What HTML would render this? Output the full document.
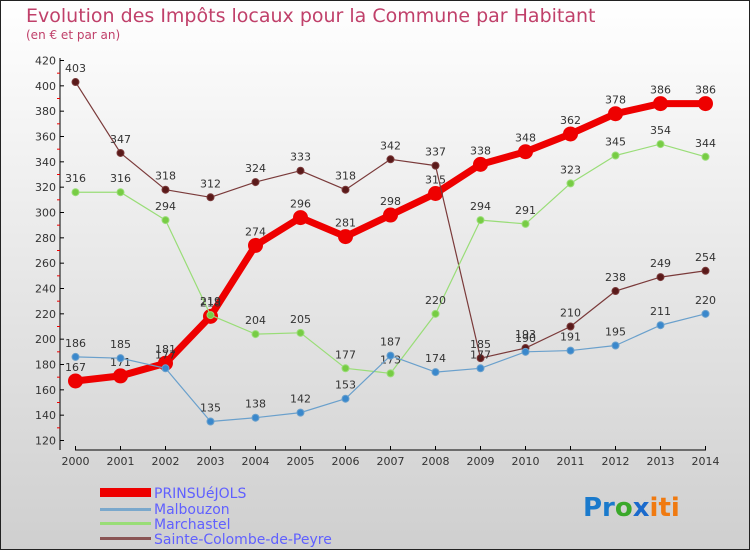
<!DOCTYPE html>
<html><head><meta charset="utf-8"><style>
body{margin:0;}
svg{display:block;font-family:"DejaVu Sans","Liberation Sans",sans-serif;}
</style></head><body>
<svg id="chart" width="750" height="550">
<defs><linearGradient id="bg" x1="0" y1="0" x2="0" y2="1"><stop offset="0" stop-color="#ffffff"/><stop offset="1" stop-color="#cfcfcf"/></linearGradient></defs>
<rect x="0.5" y="0.5" width="749" height="549" fill="url(#bg)" stroke="#222"/>
<text x="26" y="22" font-size="19" fill="#c0406a">Evolution des Impôts locaux pour la Commune par Habitant</text>
<text x="26" y="39" font-size="12" fill="#c0406a">(en € et par an)</text>
<g id="axes"></g><g id="series"></g>
<g>
<rect x="100" y="488" width="51" height="9" fill="#e00"/>
<text x="154" y="498" font-size="14" fill="#6060ff">PRINSUéJOLS</text>
<rect x="100" y="508" width="51" height="3" fill="#7aa8cc"/>
<text x="154" y="514" font-size="14" fill="#6060ff">Malbouzon</text>
<rect x="100" y="522" width="51" height="3" fill="#99dd77"/>
<text x="154" y="529" font-size="14" fill="#6060ff">Marchastel</text>
<rect x="100" y="537" width="51" height="3" fill="#8a5555"/>
<text x="154" y="544" font-size="14" fill="#6060ff">Sainte-Colombe-de-Peyre</text>
</g>
<text x="583" y="516" font-size="26" font-weight="bold"><tspan fill="#1a7acc">Pr</tspan><tspan fill="#3aa82a">o</tspan><tspan fill="#1a6acc">x</tspan><tspan fill="#f07a10">iti</tspan></text>
</svg>
<script>
const years=[2000,2001,2002,2003,2004,2005,2006,2007,2008,2009,2010,2011,2012,2013,2014];
const prinsuejols=[167,171,181,218,274,296,281,298,315,338,348,362,378,386,386];
const malbouzon=[186,185,177,135,138,142,153,187,174,177,190,191,195,211,220];
const marchastel=[316,316,294,219,204,205,177,173,220,294,291,323,345,354,344];
const sainteColombe=[403,347,318,312,324,333,318,342,337,185,193,210,238,249,254];
const yTicks=[120,140,160,180,200,220,240,260,280,300,320,340,360,380,400,420];
const NS="http://www.w3.org/2000/svg";
const x=i=>75.5+i*(705.5-75.5)/(years.length-1);
const y=v=>440.5-(v-120)*380/300;
function mk(t,a,p){const e=document.createElementNS(NS,t);for(const k in a)e.setAttribute(k,a[k]);p.appendChild(e);return e;}
const ax=document.getElementById('axes');
const yl=mk('line',{x1:60,y1:58,x2:60,y2:450,stroke:'#000'},ax);


const xl=mk('line',{x1:75,y1:450,x2:706,y2:450,stroke:'#000'},ax);


yTicks.forEach(v=>{
 mk('line',{x1:60,y1:y(v),x2:64,y2:y(v),stroke:'#000'},ax);
 if(v<420){mk('line',{x1:57,y1:y(v+10),x2:60,y2:y(v+10),stroke:'#e00'},ax);}
 const t=mk('text',{x:56,y:y(v)+4,'font-size':11,fill:'#333','text-anchor':'end'},ax);
 t.textContent=v;
 
 
});
years.forEach((yr,i)=>{
 mk('line',{x1:x(i),y1:446,x2:x(i),y2:450,stroke:'#000'},ax);
 const t=mk('text',{x:x(i),y:465,'font-size':11,fill:'#333','text-anchor':'middle'},ax);
 t.textContent=yr;
 
 
});
const sg=document.getElementById('series');
function series(vals,name,color,w,r,dot){
 const g=mk('g',{},sg);
 
 
 const p=mk('polyline',{points:vals.map((v,i)=>x(i)+','+y(v)).join(' '),fill:'none',stroke:color,'stroke-width':w,'stroke-linejoin':'round'},g);
 
 
 vals.forEach((v,i)=>{
  const c=mk('circle',{cx:x(i),cy:y(v),r:r,fill:dot,stroke:color,'stroke-width':1},g);
  
  
  const t=mk('text',{x:x(i),y:y(v)-10,'font-size':11,fill:'#333','text-anchor':'middle'},g);
  t.textContent=v;
  
  
 });
}
series(prinsuejols,'prinsuejols','#ee0000',7,7,'#ee0000');
series(sainteColombe,'sainte-colombe','#7a3a3a',1.2,3.5,'#5a1a1a');
series(marchastel,'marchastel','#99dd77',1.2,3.5,'#77cc44');
series(malbouzon,'malbouzon','#6aa0cc',1.2,3.5,'#3a88cc');
</script>
</body></html>
